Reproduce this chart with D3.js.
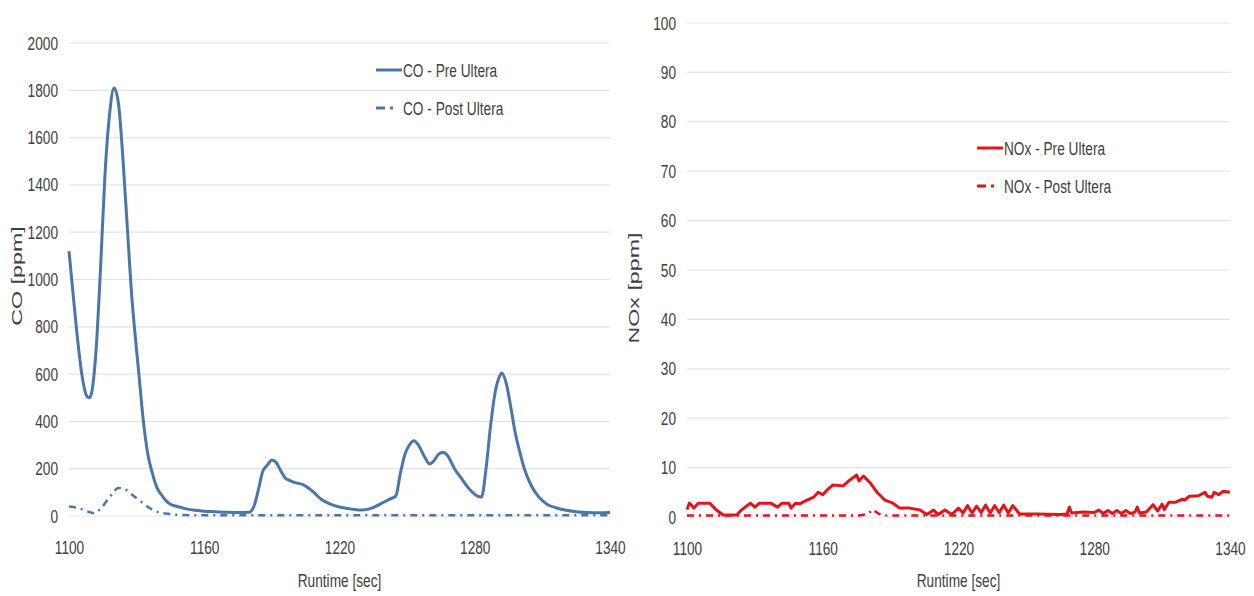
<!DOCTYPE html>
<html>
<head>
<meta charset="utf-8">
<script src="https://cdn.jsdelivr.net/npm/d3@7"></script>
<style>
  body { margin: 0; background: #fff; }
  svg text { font-family: "Liberation Sans", Arial, sans-serif; fill: #404040; }
</style>
</head>
<body>
<svg id="chart" width="1254" height="596"></svg>
<script>
// runtime [sec] / value pairs
const coPreTime = [1100, 1102, 1104, 1106, 1108, 1109, 1110, 1112, 1114, 1116, 1118, 1120, 1122, 1124, 1126, 1128, 1129, 1131, 1133, 1135, 1137, 1139, 1141, 1143, 1145, 1148, 1152, 1156, 1160, 1165, 1170, 1175, 1180, 1182, 1184, 1186, 1188, 1190, 1192, 1194, 1196, 1198, 1200, 1204, 1208, 1212, 1216, 1220, 1225, 1230, 1234, 1238, 1242, 1245, 1247, 1249, 1251, 1253, 1255, 1258, 1260, 1262, 1264, 1266, 1268, 1271, 1274, 1278, 1281, 1283, 1285, 1287, 1289, 1291, 1292, 1294, 1296, 1298, 1300, 1302, 1305, 1308, 1312, 1316, 1320, 1325, 1330, 1335, 1340];
const coPreValue = [1120, 920, 730, 580, 505, 500, 520, 700, 1050, 1450, 1700, 1810, 1740, 1500, 1200, 910, 800, 600, 400, 260, 180, 120, 90, 65, 50, 40, 30, 24, 20, 18, 16, 15, 16, 40, 110, 190, 215, 237, 225, 190, 160, 150, 142, 132, 105, 70, 50, 38, 30, 25, 32, 50, 70, 85, 180, 260, 300, 318, 300, 245, 220, 235, 262, 270, 255, 200, 160, 110, 85, 80, 200, 380, 520, 590, 605, 560, 460, 350, 270, 200, 130, 85, 50, 35, 25, 18, 15, 14, 15];

const coPostTime = [1100, 1104, 1108, 1111, 1114, 1118, 1122, 1125, 1128, 1132, 1136, 1140, 1145, 1150, 1160, 1180, 1200, 1220, 1240, 1260, 1280, 1300, 1320, 1340];
const coPostValue = [40, 34, 20, 12, 30, 80, 118, 112, 90, 60, 32, 15, 8, 4, 3, 3, 3, 3, 3, 3, 3, 3, 3, 3];

const noxPreTime = [1100, 1101, 1102, 1103, 1105, 1110, 1113, 1116, 1122, 1124, 1128, 1130, 1132, 1137, 1140, 1142, 1145, 1146, 1148, 1150, 1153, 1156, 1158, 1160, 1162, 1164.5, 1169, 1172, 1175, 1176, 1178, 1181, 1184, 1187.5, 1191, 1194, 1198.5, 1203, 1206, 1209, 1211, 1214, 1217, 1220, 1222, 1224, 1226, 1228, 1230, 1232, 1234, 1236, 1238, 1240, 1242, 1244, 1247, 1255, 1265, 1268, 1269, 1270, 1275, 1280, 1282, 1284, 1286, 1288, 1290, 1292, 1294, 1296, 1298, 1299, 1300, 1303, 1306, 1308, 1310, 1311, 1313, 1316, 1319, 1320, 1322, 1326, 1329, 1330, 1332, 1333, 1335, 1337, 1340];
const noxPreValue = [1.5, 2.8, 2.4, 1.8, 2.8, 2.8, 1.4, 0.4, 0.4, 1.4, 2.8, 2.0, 2.8, 2.8, 2.0, 2.8, 2.8, 1.8, 2.8, 2.7, 3.4, 4.0, 5.0, 4.5, 5.5, 6.5, 6.3, 7.5, 8.5, 7.3, 8.3, 6.9, 5.0, 3.4, 2.8, 1.8, 1.8, 1.4, 0.5, 1.4, 0.5, 1.4, 0.5, 1.8, 0.8, 2.3, 0.8, 2.2, 0.9, 2.4, 0.8, 2.3, 0.9, 2.4, 0.8, 2.3, 0.6, 0.6, 0.5, 0.6, 2.0, 0.8, 1.0, 0.9, 1.4, 0.7, 1.3, 0.7, 1.3, 0.7, 1.3, 0.7, 1.0, 2.0, 0.8, 1.0, 2.5, 1.2, 2.6, 1.5, 3.0, 3.0, 3.6, 3.4, 4.2, 4.3, 5.0, 4.2, 4.0, 5.0, 4.5, 5.2, 5.0];

const noxPostTime = [1100, 1120, 1140, 1160, 1176, 1180, 1182, 1186, 1200, 1220, 1240, 1260, 1280, 1300, 1320, 1340];
const noxPostValue = [0.3, 0.3, 0.3, 0.3, 0.3, 0.6, 1.5, 0.3, 0.3, 0.3, 0.3, 0.3, 0.3, 0.3, 0.3, 0.3];

const xTicks = [1100, 1160, 1220, 1280, 1340];
const coTicks = [0, 200, 400, 600, 800, 1000, 1200, 1400, 1600, 1800, 2000];
const noxTicks = [0, 10, 20, 30, 40, 50, 60, 70, 80, 90, 100];

const svg = d3.select("#chart");
// the source picture is stretched vertically, so text looks tall and narrow
const narrow = 0.72;

function drawPanel(cfg) {
  const x = d3.scaleLinear().domain([1100, 1340]).range([cfg.left, cfg.right]);
  const y = d3.scaleLinear().domain([0, cfg.yMax]).range([cfg.bottom, cfg.top]);
  const g = svg.append("g");

  // horizontal gridlines
  g.selectAll(".grid")
    .data(cfg.yTicks)
    .enter()
    .append("line")
    .attr("x1", cfg.left)
    .attr("x2", cfg.right)
    .attr("y1", d => y(d))
    .attr("y2", d => y(d))
    .attr("stroke", "#e4e4e4")
    .attr("stroke-width", 1.2);

  const yAxis = g.append("g")
    .attr("transform", `translate(${cfg.left - 11},0)`)
    .call(d3.axisLeft(y).tickValues(cfg.yTicks).tickSize(0).tickPadding(0).tickFormat(d3.format("d")));
  yAxis.select(".domain").remove();
  yAxis.selectAll("text")
    .style("font-size", "19px").style("font-family", null).attr("fill", null)
    .attr("transform", `scale(${narrow},1)`);

  const xAxis = g.append("g")
    .attr("transform", `translate(0,${cfg.bottom + 22})`)
    .call(d3.axisBottom(x).tickValues(xTicks).tickSize(0).tickFormat(d3.format("d")));
  xAxis.select(".domain").remove();
  xAxis.selectAll("text")
    .style("font-size", "19px").style("font-family", null).attr("fill", null)
    .attr("transform", `scale(${narrow},1)`);

  g.append("text")
    .attr("transform", `translate(${(cfg.left + cfg.right) / 2},587) scale(${narrow},1)`)
    .attr("text-anchor", "middle")
    .style("font-size", "19px")
    .text("Runtime [sec]");

  g.append("text")
    .attr("transform", `translate(${cfg.titleX},${cfg.titleY}) rotate(-90) scale(1.55,1)`)
    .attr("text-anchor", "middle")
    .style("font-size", "15px")
    .text(cfg.yTitle);

  const line = d3.line()
    .x(d => x(d[0]))
    .y(d => y(d[1]))
    .curve(cfg.curve);

  g.append("path")
    .datum(d3.zip(cfg.postTime, cfg.postValue))
    .attr("d", line)
    .attr("fill", "none")
    .attr("stroke", cfg.color)
    .attr("stroke-width", 2.5)
    .attr("stroke-dasharray", "7,5,2,5");

  g.append("path")
    .datum(d3.zip(cfg.preTime, cfg.preValue))
    .attr("d", line)
    .attr("fill", "none")
    .attr("stroke", cfg.color)
    .attr("stroke-width", 3)
    .attr("stroke-linejoin", "round");

  // legend
  const legend = g.append("g").attr("transform", `translate(${cfg.legendX},${cfg.legendY})`);
  const items = [
    { label: cfg.preLabel, dash: null },
    { label: cfg.postLabel, dash: "9,5,3,20" }
  ];
  const row = legend.selectAll(".legend-item")
    .data(items)
    .enter()
    .append("g")
    .attr("transform", (d, i) => `translate(0,${i * 38})`);
  row.append("line")
    .attr("x1", 0).attr("x2", 26)
    .attr("stroke", cfg.color)
    .attr("stroke-width", 3)
    .attr("stroke-dasharray", d => d.dash);
  row.append("text")
    .attr("transform", `translate(27,0) scale(${narrow},1)`)
    .attr("dy", "0.35em")
    .style("font-size", "19px")
    .text(d => d.label);
}

drawPanel({
  left: 69, right: 610, top: 43, bottom: 516, yMax: 2000, yTicks: coTicks,
  titleX: 22, titleY: 276, yTitle: "CO [ppm]", color: "#4a76aa", curve: d3.curveMonotoneX,
  preTime: coPreTime, preValue: coPreValue, postTime: coPostTime, postValue: coPostValue,
  preLabel: "CO - Pre Ultera", postLabel: "CO - Post Ultera", legendX: 376, legendY: 70
});

drawPanel({
  left: 687, right: 1230, top: 23, bottom: 517, yMax: 100, yTicks: noxTicks,
  titleX: 639, titleY: 288, yTitle: "NOx [ppm]", color: "#e2151b", curve: d3.curveLinear,
  preTime: noxPreTime, preValue: noxPreValue, postTime: noxPostTime, postValue: noxPostValue,
  preLabel: "NOx - Pre Ultera", postLabel: "NOx - Post Ultera", legendX: 977, legendY: 148
});
</script>
</body>
</html>
